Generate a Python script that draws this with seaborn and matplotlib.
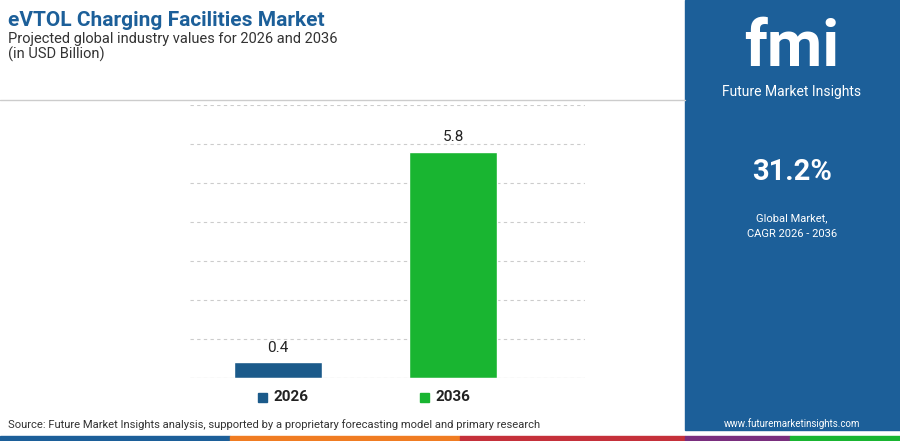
import matplotlib
matplotlib.use("Agg")
import matplotlib.pyplot as plt
import seaborn as sns
import pandas as pd
from matplotlib.patches import Rectangle

years = ["2026", "2036"]
values = [0.4, 5.8]
bar_colors = ["#1b5a8a", "#19b531"]

sns.set_style("white")
plt.rcParams['font.family'] = ['Roboto', 'DejaVu Sans']

fig = plt.figure(figsize=(9, 4.41), dpi=100)

# right blue panel
fig.patches.append(Rectangle((685/900, 11/441), 215/900, 430/441, transform=fig.transFigure,
                             color="#1c5f99", zorder=0))
# bottom colour strip
strip = [("#1c5f99", 0, 230), ("#f07c22", 230, 460), ("#c5303a", 460, 685), ("#7a2e7e", 685, 790), ("#19b531", 790, 900)]
for c, x0, x1 in strip:
    fig.patches.append(Rectangle((x0/900, 0), (x1-x0)/900, 5/441, transform=fig.transFigure, color=c))
# header line
fig.lines.append(plt.Line2D([0, 685/900], [1-100/441]*2, transform=fig.transFigure, color="#cccccc", lw=1))

fig.text(8/900, 1-20/441, "eVTOL Charging Facilities Market", fontsize=15, fontweight="bold",
         color="#1c5f99", va="center")
fig.text(8/900, 1-39/441, "Projected global industry values for 2026 and 2036", fontsize=10.5, color="#333333", va="center")
fig.text(8/900, 1-54/441, "(in USD Billion)", fontsize=10.5, color="#333333", va="center")

ax = fig.add_axes([190/900, 1-378/441, 395/900, 273/441])
df = pd.DataFrame({"year": years, "value": values})
sns.barplot(data=df, x="year", y="value", hue="year", palette=bar_colors, width=0.5, saturation=1,
            ax=ax, legend=False)
ax.set_xlim(-0.503, 1.754)
ax.set_ylim(0, 7)
ax.set_yticks(range(8))
ax.yaxis.grid(True, linestyle=(0, (3, 3)), color="#cccccc", lw=0.8)
ax.set_axisbelow(True)
ax.set_yticklabels([])
ax.set_xticks([])
ax.set_xlabel("")
ax.set_ylabel("")
ax.tick_params(length=0)
for s in ax.spines.values():
    s.set_visible(False)
ax.axhline(0, color="#cccccc", lw=0.8)
for i, v in enumerate(values):
    ax.text(i, v + 0.2, f"{v}", ha="center", va="bottom", fontsize=11, color="#222222")

# legend
for lx, lab, c in [(258, years[0], bar_colors[0]), (420, years[1], bar_colors[1])]:
    fig.patches.append(Rectangle((lx/900, 1-402/441), 9/900, 9/441, transform=fig.transFigure, color=c))
    fig.text((lx+15)/900, 1-397/441, lab, fontsize=11, fontweight="bold", color="#222222", va="center")

fig.text(8/900, 1-425/441, "Source: Future Market Insights analysis, supported by a proprietary forecasting model and primary research",
         fontsize=8.1, color="#333333", va="center")

# right panel texts
fig.text(792/900, 1-48/441, "fmi", fontsize=46, fontweight="bold", color="white", ha="center", va="center")
fig.text(792/900, 1-92/441, "Future Market Insights", fontsize=10, color="white", ha="center", va="center")
fig.text(792/900, 1-172/441, "31.2%", fontsize=21, fontweight="bold", color="white", ha="center", va="center")
fig.text(792/900, 1-218/441, "Global Market,", fontsize=8, color="white", ha="center", va="center")
fig.text(792/900, 1-234/441, "CAGR 2026 - 2036", fontsize=8, color="white", ha="center", va="center")
fig.text(792/900, 1-424/441, "www.futuremarketinsights.com", fontsize=7, color="white", ha="center", va="center")

fig.savefig("out.png", dpi=100)
